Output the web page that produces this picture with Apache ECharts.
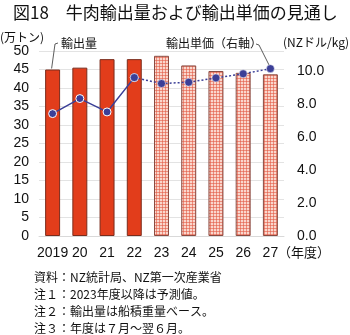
<!DOCTYPE html>
<html><head><meta charset="utf-8">
<script src="https://cdn.jsdelivr.net/npm/echarts@6/dist/echarts.min.js"></script>
<style>html,body{margin:0;padding:0;background:#fff}#c{width:350px;height:335px}</style>
</head><body><div id="c"></div>
<script>
const categories = ['2019','20','21','22','23','24','25','26','27'];
const exportVolume = [45.0, 45.5, 47.8, 47.8, 48.7, 46.1, 44.6, 44.1, 43.7];
const unitPriceActual = [7.41, 8.32, 7.51, 9.59, null, null, null, null, null];
const unitPriceForecast = [null, null, null, 9.59, 9.23, 9.31, 9.57, 9.82, 10.13];
const forecastStart = 4;
const leftTicks = {min: 0, max: 50, interval: 5};
const rightTicks = {min: 0, max: 11.2, interval: 2};
const notes = ['資料：NZ統計局、NZ第一次産業省','注１：2023年度以降は予測値。','注２：輸出量は船積重量ベース。','注３：年度は７月～翌６月。'];

const JP = '"Noto Sans CJK JP", sans-serif';
const NUM = '"Liberation Sans", "Noto Sans CJK JP", sans-serif';

// pattern for forecast bars
const pc = document.createElement('canvas');
pc.width = 3; pc.height = 3;
const px = pc.getContext('2d');
px.fillStyle = '#fad6cc'; px.fillRect(0,0,3,3);
px.fillStyle = 'rgba(226,92,70,0.6)';
px.fillRect(0,0,3,1); px.fillRect(0,0,1,3);

const barData = exportVolume.map((v,i)=> i>=forecastStart ? {
  value: v, itemStyle: {color: {image: pc, repeat: 'repeat'}, borderColor: '#8a4a40', borderWidth: 1}
} : {value: v});
const toSeries = a => a.map(v => v==null ? '-' : v);

const chart = echarts.init(document.getElementById('c'), null, {renderer: 'canvas'});
chart.setOption({
  animation: false,
  grid: {left: 39, right: 66, top: 51, bottom: 99},
  xAxis: {
    type: 'category', data: categories,
    axisLine: {show: true, lineStyle: {color: '#d9d9d9'}},
    axisTick: {show: false},
    axisLabel: {color: '#111', fontSize: 14, fontFamily: NUM, margin: 10, interval: 0}
  },
  yAxis: [{
    type: 'value', min: leftTicks.min, max: leftTicks.max, interval: leftTicks.interval,
    axisLine: {show: false}, axisTick: {show: false},
    splitLine: {lineStyle: {color: '#e3e3e3'}},
    axisLabel: {color: '#111', fontSize: 14, fontFamily: NUM, margin: 10}
  }, {
    type: 'value', min: rightTicks.min, max: rightTicks.max, interval: rightTicks.interval,
    axisLine: {show: false}, axisTick: {show: false}, splitLine: {show: false},
    axisLabel: {color: '#111', fontSize: 14, fontFamily: NUM, margin: 13, showMaxLabel: false,
      formatter: v => v.toFixed(1)}
  }],
  series: [{
    type: 'bar', data: barData, barWidth: '55%',
    itemStyle: {color: '#e23d1b', borderColor: '#7a2c1c', borderWidth: 1}
  }, {
    type: 'line', yAxisIndex: 1, data: toSeries(unitPriceActual),
    lineStyle: {color: '#3b3f97', width: 1.5},
    symbol: 'circle', symbolSize: 8,
    itemStyle: {color: '#3b3f97', borderColor: '#fff', borderWidth: 1}
  }, {
    type: 'line', yAxisIndex: 1, data: toSeries(unitPriceForecast),
    lineStyle: {color: '#3b3f97', width: 1.5, type: [2, 2]},
    symbol: 'circle', symbolSize: 8,
    itemStyle: {color: '#3b3f97', borderColor: '#fff', borderWidth: 0.5}
  }]
});

const pBar = chart.convertToPixel({xAxisIndex: 0, yAxisIndex: 0}, [0, exportVolume[0]]);
const pLine = chart.convertToPixel({xAxisIndex: 0, yAxisIndex: 1}, [8, unitPriceForecast[8]]);

const txt = (x, y, s, size, extra) => Object.assign({type: 'text', x: x, y: y, style: Object.assign({text: s, fill: '#111', font: size + 'px ' + JP, textVerticalAlign: 'middle'}, extra || {})});
const graphics = [
  txt(13, 13, '図18　牛肉輸出量および輸出単価の見通し', 17),
  txt(0, 37, '(万トン)', 12),
  txt(283, 42, '(NZドル/kg)', 12),
  txt(61, 43, '輸出量', 12),
  txt(166, 43, '輸出単価（右軸）', 12),
  txt(278, 252, '（年度）', 13),
  {type: 'polyline', shape: {points: [[58, 43], [55, 44], [pBar[0]-1, pBar[1]-1]]}, style: {stroke: '#333', lineWidth: 0.8, fill: null}},
  {type: 'polyline', shape: {points: [[256, 44], [259, 45], [pLine[0]-1, pLine[1]-3]]}, style: {stroke: '#333', lineWidth: 0.8, fill: null}}
];
notes.forEach((n, i) => graphics.push(txt(34, 277 + i*17.3, n, 12)));
chart.setOption({graphic: graphics});
</script></body></html>
